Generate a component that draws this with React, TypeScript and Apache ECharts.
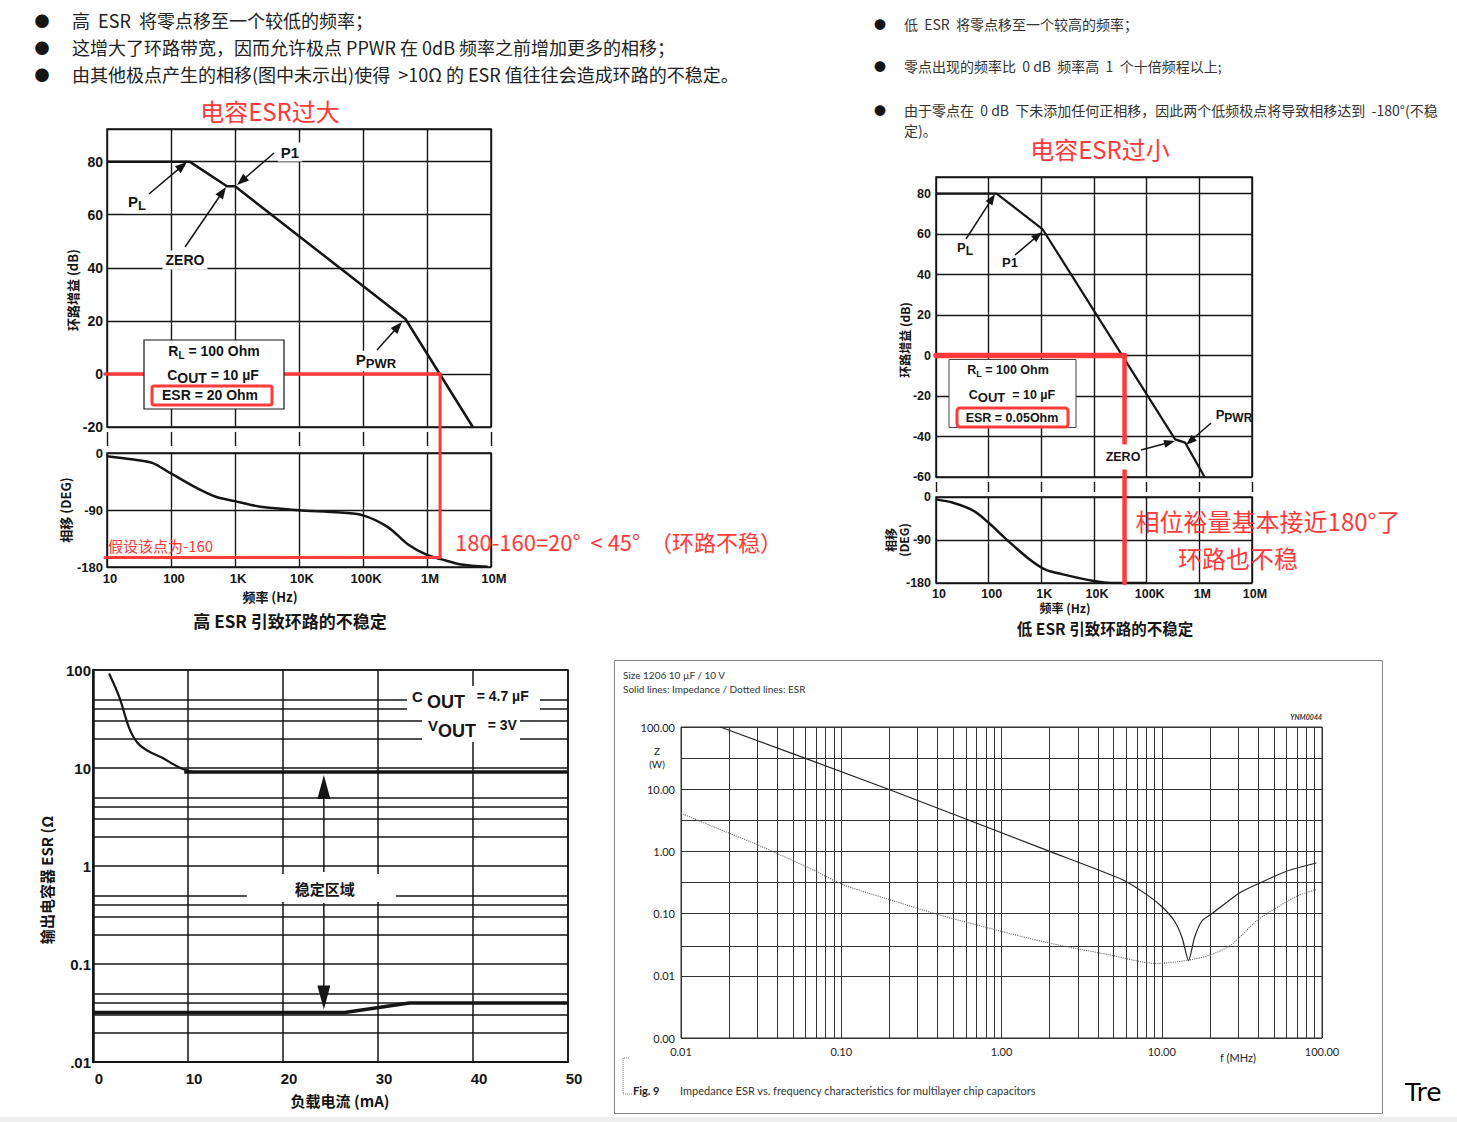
import React, { useEffect, useRef } from "react";
import * as echarts from "echarts";

// ---------------- DATA ----------------
// Top-left: high ESR (20 Ohm) loop gain / phase
const highEsrGainFreq = [10, 195, 750, 1000, 460000, 5200000];
const highEsrGainDb = [80, 80, 70.7, 70.7, 20.7, -20];
const highEsrPhaseFreq = [10, 24, 52, 95, 229, 500, 1000, 2240, 5250, 10000, 43600, 100000, 245000, 500000, 1000000, 1700000, 3400000, 8900000];
const highEsrPhaseDeg = [-5, -10, -16, -31, -53, -69, -76, -84, -88, -90.5, -94, -98.5, -117, -144, -161, -168, -176, -179.5];
const highEsrCrossoverHz = 1600000;
const highEsrAssumedPhase = -165;

// Top-right: low ESR (0.05 Ohm) loop gain / phase
const lowEsrGainFreq = [10, 141, 1050, 347000, 537000, 1260000];
const lowEsrGainDb = [80, 80, 62.5, -41.4, -43, -60];
const lowEsrPhaseFreq = [10, 21, 52, 100, 234, 575, 1200, 2570, 10000, 21000, 100000];
const lowEsrPhaseDeg = [-5, -12, -29, -54, -92, -129, -152, -162, -176, -180, -180];
const lowEsrCrossoverHz = 38000;

const freqTickLabels = ["10", "100", "1K", "10K", "100K", "1M", "10M"];

// Bottom-left: ESR stable region vs load current
const loadCurveMa = [1.7, 2.8, 3.8, 4.7, 5.8, 7.3, 9.2, 10.7];
const loadCurveEsr = [92, 52, 25.7, 18, 14.9, 12.7, 10, 9.0];
const upperFlatMa = [9.6, 50];
const upperFlatEsr = [9.1, 9.1];
const lowerBoundMa = [0, 26.5, 33.3, 50];
const lowerBoundEsr = [0.032, 0.032, 0.04, 0.04];
const esrTickLabels = [".01", "0.1", "1", "10", "100"];
const esrMinorGrid = [0.02, 0.03, 0.04, 0.05, 0.2, 0.3, 0.4, 0.5, 2, 3, 4, 5, 20, 30, 40, 50];
const stableArrowMa = 24.3;

// Bottom-right: impedance / ESR vs frequency (MHz, Ohm)
const zFreqMhz = [0.0176, 0.197, 2.0, 5.7, 8.1, 10, 12, 13.4, 14.7, 16, 17.8, 20.6, 30.5, 42, 60, 92];
const zOhm = [100, 10, 1, 0.35, 0.2, 0.13, 0.076, 0.041, 0.0174, 0.041, 0.076, 0.1, 0.215, 0.32, 0.48, 0.65];
const esrFreqMhz = [0.01, 0.02, 0.0307, 0.063, 0.104, 0.197, 0.4, 0.82, 1.95, 4.6, 9.3, 14.9, 20.5, 27.3, 39, 52, 69.5, 92.5];
const esrOhm = [4.1, 1.96, 1.25, 0.54, 0.29, 0.17, 0.097, 0.059, 0.034, 0.022, 0.0158, 0.018, 0.022, 0.032, 0.076, 0.124, 0.19, 0.245];
const fig9MinorFreq = [
  0.02, 0.03, 0.04, 0.05, 0.06, 0.07, 0.08, 0.09,
  0.2, 0.3, 0.4, 0.5, 0.6, 0.7, 0.8, 0.9,
  2, 3, 4, 5, 6, 7, 8, 9,
  20, 30, 40, 50, 60, 70, 80, 90,
];
const fig9MidDecades = [0.00316, 0.0316, 0.316, 3.16, 31.6];

// ---------------- STYLE ----------------
const SANS = "'Liberation Sans', Arial, sans-serif";
const CJK = "'Noto Sans CJK SC', 'Noto Sans', sans-serif";
const GILL = "Lato, 'Open Sans', sans-serif";
const INK = "#151515";
const RED = "#ff3a3a";

const zip = (xs: number[], ys: number[]) => xs.map((x, i) => [x, ys[i]]);
const freqFmt = (v: number) => freqTickLabels[Math.round(Math.log10(v)) - 1] ?? "";
const every = (step: number) => (v: number) =>
  Math.abs(v / step - Math.round(v / step)) < 1e-6 ? String(Math.round(v)) : "";

function logFreqAxis(gi: number, labels: boolean, fontSize = 13, margin = 5) {
  return {
    type: "log", logBase: 10, gridIndex: gi, min: 10, max: 1e7, splitNumber: 6,
    axisLine: { show: false }, axisTick: { show: false },
    splitLine: { show: true, lineStyle: { color: INK, width: 1.4 } },
    axisLabel: labels
      ? { show: true, formatter: freqFmt, fontFamily: SANS, fontWeight: "bold", fontSize, color: INK, margin, padding: [0, 0, 0, 6], showMinLabel: true, showMaxLabel: true }
      : { show: false },
  };
}

function valAxis(gi: number, min: number, max: number, interval: number, fontSize: number, margin: number) {
  return {
    type: "value", gridIndex: gi, min, max, interval,
    axisLine: { show: false }, axisTick: { show: false },
    splitLine: { show: true, lineStyle: { color: INK, width: 1.4 } },
    axisLabel: { formatter: every(interval), fontFamily: SANS, fontWeight: "bold", fontSize, color: INK, margin, showMinLabel: true, showMaxLabel: true },
  };
}

function line(gi: number, xs: number[], ys: number[], width: number, extra: any = {}) {
  return {
    type: "line", xAxisIndex: gi, yAxisIndex: gi, data: zip(xs, ys), symbol: "none", silent: true,
    lineStyle: { color: INK, width }, z: 5, ...extra,
  };
}

function buildOption(): any {
  const box = { show: true, borderColor: INK, borderWidth: 1.5, backgroundColor: "transparent" };
  return {
    animation: false,
    backgroundColor: "#ffffff",
    grid: [
      { left: 107, top: 129, width: 384, height: 298, ...box },
      { left: 107, top: 432, width: 384, height: 14 },
      { left: 107, top: 453, width: 384, height: 114, ...box },
      { left: 936, top: 177, width: 316, height: 300, ...box },
      { left: 936, top: 482, width: 316, height: 10 },
      { left: 936, top: 497, width: 316, height: 86, ...box },
      { left: 93, top: 670, width: 475, height: 392, ...box },
      { left: 681, top: 727, width: 641, height: 311, show: true, borderColor: "#333", borderWidth: 1, backgroundColor: "transparent" },
    ],
    xAxis: [
      logFreqAxis(0, false),
      logFreqAxis(1, false),
      logFreqAxis(2, true, 13, 5),
      logFreqAxis(3, false),
      logFreqAxis(4, false),
      logFreqAxis(5, true, 12.5, 4),
      {
        type: "value", gridIndex: 6, min: 0, max: 50, interval: 10,
        axisLine: { show: true, lineStyle: { color: INK, width: 2 } }, axisTick: { show: false },
        splitLine: { show: true, lineStyle: { color: INK, width: 1.5 } },
        axisLabel: { fontFamily: SANS, fontWeight: "bold", fontSize: 15, color: INK, margin: 9, padding: [0, 0, 0, 12], showMinLabel: true, showMaxLabel: true },
      },
      {
        type: "log", logBase: 10, gridIndex: 7, min: 0.01, max: 100, splitNumber: 4,
        axisLine: { show: false }, axisTick: { show: false },
        splitLine: { show: true, lineStyle: { color: "#333", width: 1 } },
        axisLabel: { formatter: (v: number) => v.toFixed(2), fontFamily: GILL, fontSize: 11, color: "#222", margin: 8, showMinLabel: true, showMaxLabel: true },
      },
    ],
    yAxis: [
      valAxis(0, -20, 92.3, 20, 14, 4),
      { type: "value", gridIndex: 1, min: 0, max: 1, show: false },
      valAxis(2, -180, 0, 90, 13, 4),
      valAxis(3, -60, 88.2, 20, 12.5, 5),
      { type: "value", gridIndex: 4, min: 0, max: 1, show: false },
      valAxis(5, -180, 0, 90, 12.5, 5),
      {
        type: "log", logBase: 10, gridIndex: 6, min: 0.01, max: 100, splitNumber: 4,
        axisLine: { show: true, lineStyle: { color: INK, width: 2.5 } }, axisTick: { show: false },
        splitLine: { show: true, lineStyle: { color: INK, width: 1.5 } },
        axisLabel: { formatter: (v: number) => esrTickLabels[Math.round(Math.log10(v)) + 2] ?? "", fontFamily: SANS, fontWeight: "bold", fontSize: 15, color: INK, margin: 2, showMinLabel: true, showMaxLabel: true },
      },
      {
        type: "log", logBase: 10, gridIndex: 7, min: 0.001, max: 100, splitNumber: 5,
        axisLine: { show: false }, axisTick: { show: false },
        splitLine: { show: true, lineStyle: { color: "#333", width: 1.1 } },
        axisLabel: { formatter: (v: number) => v.toFixed(2), fontFamily: GILL, fontSize: 11, color: "#222", margin: 6, showMinLabel: true, showMaxLabel: true },
      },
    ],
    series: [
      line(0, highEsrGainFreq, highEsrGainDb, 2.5),
      { type: "line", xAxisIndex: 1, yAxisIndex: 1, data: [], silent: true },
      line(2, highEsrPhaseFreq, highEsrPhaseDeg, 2.5, { smooth: 0.3 }),
      line(3, lowEsrGainFreq, lowEsrGainDb, 2.2),
      { type: "line", xAxisIndex: 4, yAxisIndex: 4, data: [], silent: true },
      line(5, lowEsrPhaseFreq, lowEsrPhaseDeg, 2.5, { smooth: 0.3 }),
      line(6, loadCurveMa, loadCurveEsr, 2.2, {
        smooth: 0.3,
        markLine: {
          silent: true, symbol: ["none", "none"], label: { show: false }, animation: false,
          lineStyle: { color: INK, width: 1.5, type: "solid" },
          data: esrMinorGrid.map((v) => ({ yAxis: v })),
        },
      }),
      line(6, upperFlatMa, upperFlatEsr, 3.5),
      line(6, lowerBoundMa, lowerBoundEsr, 3.5),
      line(7, zFreqMhz, zOhm, 1.2, {
        smooth: 0.2, lineStyle: { color: "#222", width: 1.2 },
        markLine: {
          silent: true, symbol: ["none", "none"], label: { show: false }, animation: false,
          lineStyle: { color: "#333", width: 1, type: "solid" },
          data: [
            ...fig9MinorFreq.map((v) => ({ xAxis: v })),
            ...fig9MidDecades.map((v) => ({ yAxis: v, lineStyle: { width: 1.1 } })),
          ],
        },
      }),
      line(7, esrFreqMhz, esrOhm, 1.1, { smooth: 0.3, lineStyle: { color: "#666", width: 1.1, type: "dotted" } }),
    ],
  };
}

// ---------------- GRAPHICS ----------------
function txt(x: number, y: number, text: string, o: any = {}) {
  const align = o.align ?? "left";
  return {
    type: "text", x, y, z: o.z ?? 60, silent: true, rotation: o.rot ?? 0,
    style: {
      text, fill: o.fill ?? INK, fontSize: o.size ?? 14, fontFamily: o.family ?? SANS,
      fontWeight: o.weight ?? "normal", fontStyle: o.fstyle ?? "normal",
      align, textAlign: align, verticalAlign: "middle", textVerticalAlign: "middle",
      rich: o.rich, backgroundColor: o.bg, padding: o.pad, lineHeight: o.lh,
    },
  };
}

// main token top-aligned, sub token bottom-aligned in a taller line => subscript lowered by d
function subRich(size: number, subSize: number, d: number, family = SANS) {
  const L = 0.86 * size + 0.14 * subSize + d;
  return {
    m: { fontSize: size, fontWeight: "bold", fontFamily: family, verticalAlign: "top", fill: INK },
    s: { fontSize: subSize, fontWeight: "bold", fontFamily: family, lineHeight: L, verticalAlign: "bottom", fill: INK },
  };
}

function arrow(x1: number, y1: number, x2: number, y2: number, len = 12, hw = 4.5, lw = 1.5) {
  const dx = x2 - x1, dy = y2 - y1, L = Math.hypot(dx, dy);
  const ux = dx / L, uy = dy / L;
  const bx = x2 - ux * len, by = y2 - uy * len;
  return [
    { type: "line", z: 70, silent: true, shape: { x1, y1, x2: bx + ux * 2, y2: by + uy * 2 }, style: { stroke: INK, lineWidth: lw } },
    { type: "polygon", z: 70, silent: true, shape: { points: [[x2, y2], [bx - uy * hw, by + ux * hw], [bx + uy * hw, by - ux * hw]] }, style: { fill: INK } },
  ];
}

function redLine(a: number[], b: number[], w: number) {
  return { type: "line", z: 40, silent: true, shape: { x1: a[0], y1: a[1], x2: b[0], y2: b[1] }, style: { stroke: RED, lineWidth: w, lineCap: "round" } };
}

function rect(x: number, y: number, w: number, h: number, style: any, z = 45, r = 0) {
  return { type: "rect", z, silent: true, shape: { x, y, width: w, height: h, r }, style };
}

function buildGraphics(px: (g: number, x: number, y: number) => number[]): any[] {
  const g: any[] = [];
  const ROT = Math.PI / 2;

  // ---- top bullet texts ----
  const leftBullets = [
    "高  ESR  将零点移至一个较低的频率；",
    "这增大了环路带宽，因而允许极点 PPWR 在 0dB 频率之前增加更多的相移；",
    "由其他极点产生的相移(图中未示出)使得  >10Ω 的 ESR 值往往会造成环路的不稳定。",
  ];
  [20, 47, 74].forEach((y, i) => {
    g.push(txt(42, y, "●", { size: 15, family: CJK, align: "center" }));
    g.push(txt(72, y, leftBullets[i], { size: 18, family: CJK, fill: "#222" }));
  });
  const rightBullets = [
    "低  ESR  将零点移至一个较高的频率；",
    "零点出现的频率比  0 dB  频率高  1  个十倍频程以上;",
    "由于零点在  0 dB  下未添加任何正相移，因此两个低频极点将导致相移达到  -180°(不稳",
  ];
  [24, 66, 110].forEach((y, i) => {
    g.push(txt(880, y, "●", { size: 12, family: CJK, align: "center" }));
    g.push(txt(904, y, rightBullets[i], { size: 14, family: CJK, fill: "#333" }));
  });
  g.push(txt(904, 130, "定)。", { size: 14, family: CJK, fill: "#333" }));

  // ---- red titles ----
  g.push(txt(270, 110, "电容ESR过大", { size: 24, family: CJK, fill: RED, align: "center" }));
  g.push(txt(1100, 148, "电容ESR过小", { size: 24, family: CJK, fill: RED, align: "center" }));

  // ================= Chart 1 (high ESR) =================
  const c1z = px(0, 10, 0);
  const c1x = px(0, highEsrCrossoverHz, 0);
  const c1p = px(2, highEsrCrossoverHz, highEsrAssumedPhase);
  const c1p0 = px(2, 10, highEsrAssumedPhase);
  g.push(redLine([c1z[0] - 2, c1z[1]], c1x, 3.5));
  g.push(redLine(c1x, c1p, 3));
  g.push(redLine([c1p0[0] - 2, c1p0[1]], c1p, 3));

  g.push(rect(144, 340, 140, 69, { fill: "#fff", stroke: INK, lineWidth: 1.2 }));
  g.push(rect(152, 386, 120, 19, { fill: "none", stroke: RED, lineWidth: 3 }, 55, 2));
  const r1 = subRich(14, 10, 3);
  g.push(txt(214, 352, "{m|R}{s|L}{m| = 100 Ohm}", { align: "center", rich: r1 }));
  const r1c = subRich(14, 14, 3);
  g.push(txt(213, 376, "{m|C}{s|OUT}{m| = 10 µF}", { align: "center", rich: r1c }));
  g.push(txt(210, 395, "ESR = 20 Ohm", { align: "center", weight: "bold", size: 14 }));

  const rP = subRich(15, 13, 4);
  g.push(txt(137, 203, "{m|P}{s|L}", { align: "center", rich: rP, bg: "#fff", pad: [1, 3, 1, 3] }));
  g.push(txt(290, 152, "P1", { align: "center", weight: "bold", size: 15, bg: "#fff", pad: [2, 3, 2, 3] }));
  g.push(txt(185, 260, "ZERO", { align: "center", weight: "bold", size: 14, bg: "#fff", pad: [2, 3, 3, 3] }));
  g.push(txt(376, 361, "{m|P}{s|PWR}", { align: "center", rich: rP, bg: "#fff", pad: [1, 2, 1, 2] }));
  g.push(...arrow(149, 194, 187, 162));
  g.push(...arrow(274, 153, 237, 185));
  g.push(...arrow(185, 247, 226, 187));
  g.push(...arrow(377, 350, 402, 322));

  g.push(txt(72, 290, "环路增益 (dB)", { align: "center", rot: ROT, weight: "bold", size: 13, family: CJK }));
  g.push(txt(65, 510, "相移 (DEG)", { align: "center", rot: ROT, weight: "bold", size: 13, family: CJK }));
  g.push(txt(270, 596, "频率 (Hz)", { align: "center", weight: "bold", size: 13, family: CJK }));
  g.push(txt(290, 620, "高 ESR 引致环路的不稳定", { align: "center", weight: "bold", size: 17, family: CJK }));
  g.push(txt(108, 545, "假设该点为-160", { size: 15, family: CJK, fill: RED }));
  g.push(txt(455, 541, "180-160=20°  < 45°  （环路不稳）", { size: 22, family: CJK, fill: RED }));

  // ================= Chart 2 (low ESR) =================
  const c2z = px(3, 10, 0);
  const c2x = px(3, lowEsrCrossoverHz, 0);
  const c2p = px(5, lowEsrCrossoverHz, -180);
  g.push(redLine(c2z, c2x, 5.5));
  g.push(redLine(c2x, c2p, 4.5));

  g.push(rect(949, 359.5, 127, 68, { fill: "#fff", stroke: "#444", lineWidth: 1 }));
  g.push(rect(957, 408, 111, 19, { fill: "none", stroke: RED, lineWidth: 3 }, 55, 3));
  const r2 = subRich(12.5, 9, 3);
  g.push(txt(1008, 371, "{m|R}{s|L}{m| = 100 Ohm}", { align: "center", rich: r2 }));
  const r2c = subRich(12.5, 13, 3);
  g.push(txt(1012, 396, "{m|C}{s|OUT}{m|  = 10 µF}", { align: "center", rich: r2c }));
  g.push(txt(1012, 418, "ESR = 0.05Ohm", { align: "center", weight: "bold", size: 12.5 }));

  const rP2 = subRich(13, 12, 4);
  g.push(txt(965, 249, "{m|P}{s|L}", { align: "center", rich: rP2, bg: "#fff", pad: [1, 2, 1, 2] }));
  g.push(txt(1010, 262, "P1", { align: "center", weight: "bold", size: 13, bg: "#fff", pad: [1, 2, 1, 2] }));
  g.push(txt(1123, 457, "ZERO", { align: "center", weight: "bold", size: 12.5, bg: "#fff", pad: [6, 2, 6, 2] }));
  g.push(txt(1234, 416, "{m|P}{s|PWR}", { align: "center", rich: rP2 }));
  g.push(...arrow(966, 239, 995, 194, 11, 4));
  g.push(...arrow(1015, 255, 1042, 232, 11, 4));
  g.push(...arrow(1141, 450, 1175, 441, 11, 4));
  g.push(...arrow(1211, 423, 1186, 445, 11, 4));

  g.push(txt(904, 340, "环路增益 (dB)", { align: "center", rot: ROT, weight: "bold", size: 12, family: CJK }));
  g.push(txt(897, 540, "相移\n(DEG)", { align: "center", rot: ROT, weight: "bold", size: 12, family: CJK, lh: 13 }));
  g.push(txt(1065, 607, "频率 (Hz)", { align: "center", weight: "bold", size: 12, family: CJK }));
  g.push(txt(1105, 628, "低 ESR 引致环路的不稳定", { align: "center", weight: "bold", size: 15.5, family: CJK }));
  g.push(txt(1268, 520, "相位裕量基本接近180°了", { align: "center", size: 24, family: CJK, fill: RED }));
  g.push(txt(1238, 557, "环路也不稳", { align: "center", size: 24, family: CJK, fill: RED }));

  // ================= Chart 3 (ESR vs load) =================
  const up = px(6, stableArrowMa, upperFlatEsr[0]);
  const dn = px(6, stableArrowMa, lowerBoundEsr[0]);
  const ax = up[0];
  g.push(rect(ax - 77, 874, 149, 28, { fill: "#fff" }, 45));
  g.push(txt(ax + 1, 888, "稳定区域", { align: "center", weight: "bold", size: 15, family: CJK }));
  g.push(...arrow(ax, 872, ax, up[1] + 3, 24, 6.5, 1.5));
  g.push(...arrow(ax, 903, ax, dn[1] - 3, 24, 6.5, 1.5));

  g.push(rect(407, 686, 133, 27, { fill: "#fff" }, 45));
  g.push(rect(422, 713, 98, 29, { fill: "#fff" }, 45));
  const r3 = {
    c: { fontSize: 15, fontWeight: "bold", fontFamily: SANS, verticalAlign: "top", fill: INK },
    o: { fontSize: 18, fontWeight: "bold", fontFamily: SANS, lineHeight: 0.86 * 15 + 0.14 * 18 + 6, verticalAlign: "bottom", fill: INK },
    e: { fontSize: 14, fontWeight: "bold", fontFamily: SANS, verticalAlign: "top", fill: INK },
  };
  g.push(txt(412, 700, "{c|C }{o|OUT}{e|   = 4.7 µF}", { rich: r3 }));
  g.push(txt(428, 729, "{c|V}{o|OUT}{e|   = 3V}", { rich: r3 }));

  g.push(txt(46, 880, "输出电容器 ESR (Ω", { align: "center", rot: ROT, weight: "bold", size: 15, family: CJK }));
  g.push(txt(340, 1100, "负载电流 (mA)", { align: "center", weight: "bold", size: 15, family: CJK }));

  // ================= Chart 4 (impedance) =================
  g.push(rect(614.5, 660.5, 768, 453, { fill: "none", stroke: "#888", lineWidth: 1 }, 30));
  g.push(txt(623, 675, "Size 1206 10 µF / 10 V", { size: 10, family: GILL, fill: "#333" }));
  g.push(txt(623, 689, "Solid lines: Impedance / Dotted lines: ESR", { size: 10, family: GILL, fill: "#333" }));
  g.push(txt(1322, 717, "YNM0044", { size: 7, family: GILL, fill: "#333", align: "right", fstyle: "italic", weight: "bold" }));
  g.push(txt(657, 751, "Z", { size: 10, family: GILL, fill: "#222", align: "center" }));
  g.push(txt(657, 764, "(W)", { size: 10, family: GILL, fill: "#222", align: "center" }));
  g.push(txt(1238, 1057, "f (MHz)", { size: 11, family: GILL, fill: "#222", align: "center" }));
  g.push({ type: "polyline", z: 30, silent: true, shape: { points: [[629, 1058], [623, 1058], [623, 1094], [632, 1094]] }, style: { stroke: "#777", lineWidth: 1, lineDash: [1, 1], fill: "none" } });
  g.push(txt(633, 1090, "Fig. 9", { size: 11, family: GILL, fill: "#222", weight: "bold" }));
  g.push(txt(680, 1090, "Impedance ESR vs. frequency characteristics for multilayer chip capacitors", { size: 11, family: GILL, fill: "#333" }));

  // ---- misc ----
  g.push(txt(1405, 1092, "Tre", { size: 25, family: "'DejaVu Sans', sans-serif", fill: "#000" }));
  g.push(rect(0, 1117, 1457, 5, { fill: "#eeeeee" }, 10));

  return g;
}

export default function App() {
  const ref = useRef<HTMLDivElement>(null);
  useEffect(() => {
    if (!ref.current) return;
    const chart = echarts.init(ref.current, undefined, { renderer: "svg" });
    chart.setOption(buildOption());
    const px = (gi: number, x: number, y: number) =>
      chart.convertToPixel({ xAxisIndex: gi, yAxisIndex: gi } as any, [x, y]) as unknown as number[];
    chart.setOption({ graphic: { elements: buildGraphics(px) } });
    return () => chart.dispose();
  }, []);
  return (
    <div
      ref={ref}
      style={{ position: "absolute", left: 0, top: 0, width: 1457, height: 1122, background: "#fff" }}
    />
  );
}
